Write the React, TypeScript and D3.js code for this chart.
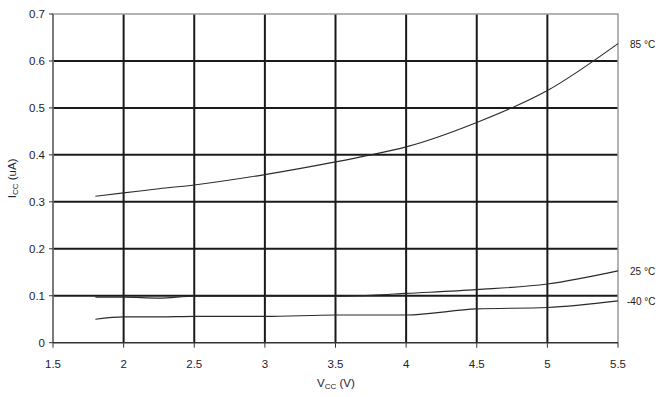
import React, { useEffect, useRef } from 'react';
import * as d3 from 'd3';

const xTicks = [1.5, 2, 2.5, 3, 3.5, 4, 4.5, 5, 5.5];
const yTicks = [0, 0.1, 0.2, 0.3, 0.4, 0.5, 0.6, 0.7];

const vcc = [1.8, 2, 2.25, 2.5, 3, 3.5, 3.75, 4, 4.5, 5, 5.5];
const icc85 = [0.312, 0.319, 0.328, 0.336, 0.358, 0.385, 0.4, 0.417, 0.469, 0.537, 0.637];
const icc25 = [0.097, 0.097, 0.095, 0.099, 0.099, 0.099, 0.101, 0.105, 0.113, 0.125, 0.153];
const iccM40 = [0.05, 0.055, 0.055, 0.056, 0.056, 0.059, 0.059, 0.059, 0.072, 0.075, 0.089];

const seriesLabels = ['85 °C', '25 °C', '-40 °C'];

export default function App() {
  const ref = useRef<SVGSVGElement>(null);

  useEffect(() => {
    const svg = d3.select(ref.current);
    svg.selectAll('*').remove();

    const left = 53, right = 618, top = 14, bottom = 342.7;
    const x = d3.scaleLinear().domain([1.5, 5.5]).range([left, right]);
    const y = d3.scaleLinear().domain([0, 0.7]).range([bottom, top]);
    const font = 'Liberation Sans, Arial, sans-serif';

    // grid
    svg.append('g').selectAll('line.v')
      .data(xTicks.slice(1, -1))
      .enter().append('line')
      .attr('x1', d => x(d)).attr('x2', d => x(d))
      .attr('y1', top).attr('y2', bottom)
      .attr('stroke', '#1a1a1a').attr('stroke-width', 2);
    svg.append('g').selectAll('line.h')
      .data(yTicks.slice(1, -1))
      .enter().append('line')
      .attr('x1', left).attr('x2', right)
      .attr('y1', d => y(d)).attr('y2', d => y(d))
      .attr('stroke', '#1a1a1a').attr('stroke-width', 2);

    // frame (top / right gray)
    svg.append('path')
      .attr('d', `M${left},${bottom}V${top}H${right}V${bottom}`)
      .attr('fill', 'none').attr('stroke', '#9a9a9a').attr('stroke-width', 1.5);
    // left axis
    svg.append('line')
      .attr('x1', left).attr('x2', left).attr('y1', top).attr('y2', bottom)
      .attr('stroke', '#555').attr('stroke-width', 1.2);
    // bottom axis
    svg.append('line')
      .attr('x1', left).attr('x2', right).attr('y1', bottom).attr('y2', bottom)
      .attr('stroke', '#333').attr('stroke-width', 1.5);

    // ticks
    svg.append('g').selectAll('line')
      .data(xTicks).enter().append('line')
      .attr('x1', d => x(d)).attr('x2', d => x(d))
      .attr('y1', bottom).attr('y2', bottom + 5)
      .attr('stroke', '#333').attr('stroke-width', 1);
    svg.append('g').selectAll('line')
      .data(yTicks).enter().append('line')
      .attr('x1', left - 4).attr('x2', left)
      .attr('y1', d => y(d)).attr('y2', d => y(d))
      .attr('stroke', '#333').attr('stroke-width', 1);

    svg.append('g').selectAll('text')
      .data(xTicks).enter().append('text')
      .attr('x', d => x(d)).attr('y', bottom + 25)
      .attr('text-anchor', 'middle')
      .attr('font-family', font).attr('font-size', 11.5).attr('fill', '#1c2233')
      .text(d => String(d));
    svg.append('g').selectAll('text')
      .data(yTicks).enter().append('text')
      .attr('x', left - 8).attr('y', d => y(d) + 4)
      .attr('text-anchor', 'end')
      .attr('font-family', font).attr('font-size', 11.5).attr('fill', '#1c2233')
      .text(d => String(d));

    // axis titles
    const xt = svg.append('text')
      .attr('x', 336).attr('y', 387)
      .attr('text-anchor', 'middle')
      .attr('font-family', font).attr('font-size', 11.5).attr('fill', '#1c2233');
    xt.append('tspan').text('V');
    xt.append('tspan').attr('font-size', 8).attr('dy', 2).text('CC');
    xt.append('tspan').attr('dy', -2).text(' (V)');

    const yt = svg.append('text')
      .attr('transform', `translate(16,${(top + bottom) / 2}) rotate(-90)`)
      .attr('text-anchor', 'middle')
      .attr('font-family', font).attr('font-size', 11.5).attr('fill', '#1c2233');
    yt.append('tspan').text('I');
    yt.append('tspan').attr('font-size', 8).attr('dy', 2).text('CC');
    yt.append('tspan').attr('dy', -2).text(' (uA)');

    // curves
    const series = [icc85, icc25, iccM40];
    const line = d3.line<number>()
      .x((_, i) => x(vcc[i]))
      .y(d => y(d))
      .curve(d3.curveMonotoneX);
    series.forEach(s => {
      svg.append('path')
        .attr('d', line(s) as string)
        .attr('fill', 'none')
        .attr('stroke', '#2a2a2a')
        .attr('stroke-width', 1.1);
    });

    // series labels
    const labelX = [630, 630, 627];
    series.forEach((s, i) => {
      svg.append('text')
        .attr('x', labelX[i]).attr('y', y(s[s.length - 1]) + 4)
        .attr('font-family', font).attr('font-size', 10).attr('fill', '#1a1a1a')
        .text(seriesLabels[i]);
    });
  }, []);

  return (
    <svg ref={ref} width={662} height={397}
      style={{ position: 'absolute', left: 0, top: 0, background: '#fff' }} />
  );
}
